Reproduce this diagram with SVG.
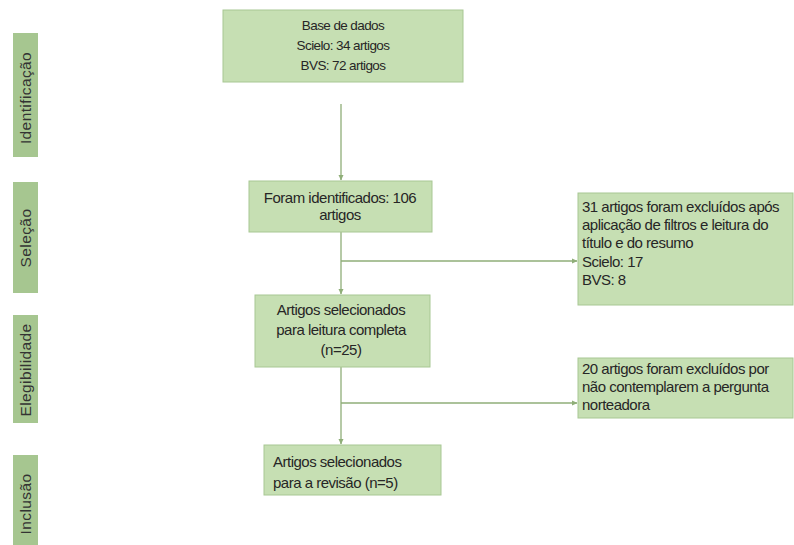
<svg xmlns="http://www.w3.org/2000/svg" width="794" height="545" viewBox="0 0 794 545">
<defs>
<style>
.box{fill:#c6dfb3;stroke:#a8c793;stroke-width:1}
.lab{fill:#a6c690}
.t{font-family:"Liberation Sans",Arial,sans-serif;font-size:15px;fill:#262626;letter-spacing:-0.5px}
.tc{text-anchor:middle}
.lt{font-family:"Liberation Sans",Arial,sans-serif;font-size:15.5px;fill:#333333;text-anchor:middle;letter-spacing:0.4px}
.c{fill:none;stroke:#8fae78;stroke-width:1.3}
</style>
<marker id="ah" markerWidth="6" markerHeight="6" refX="5" refY="3" orient="auto" markerUnits="userSpaceOnUse">
<path d="M0,0.5 L5.5,3 L0,5.5 Z" fill="#8fae78"/>
</marker>
</defs>
<rect width="794" height="545" fill="#ffffff"/>
<g id="label-identificacao">
<rect class="lab" x="13" y="33" width="25" height="124"/>
<text class="lt" transform="translate(31,98) rotate(-90)">Identificação</text>
</g>
<g id="label-selecao">
<rect class="lab" x="13" y="182" width="25" height="111"/>
<text class="lt" transform="translate(31,238) rotate(-90)">Seleção</text>
</g>
<g id="label-elegibilidade">
<rect class="lab" x="13" y="315" width="25" height="108"/>
<text class="lt" transform="translate(31,370) rotate(-90)">Elegibilidade</text>
</g>
<g id="label-inclusao">
<rect class="lab" x="13" y="455" width="25" height="90"/>
<text class="lt" transform="translate(31,504) rotate(-90)">Inclusão</text>
</g>
<g id="connectors">
<line class="c" x1="341" y1="104" x2="341" y2="180" marker-end="url(#ah)"/>
<line class="c" x1="341" y1="232" x2="341" y2="294" marker-end="url(#ah)"/>
<line class="c" x1="341" y1="261" x2="577" y2="261" marker-end="url(#ah)"/>
<line class="c" x1="341" y1="367" x2="341" y2="444" marker-end="url(#ah)"/>
<line class="c" x1="341" y1="403" x2="577" y2="403" marker-end="url(#ah)"/>
</g>
<g id="node-base">
<rect class="box" x="223" y="10" width="240" height="72"/>
<text class="t tc" x="343" y="30" style="font-size:13.5px;letter-spacing:-0.6px">Base de dados</text>
<text class="t tc" x="343" y="50" style="font-size:13.5px;letter-spacing:-0.6px">Scielo: 34 artigos</text>
<text class="t tc" x="343" y="70" style="font-size:13.5px;letter-spacing:-0.6px">BVS: 72 artigos</text>
</g>
<g id="node-identificados">
<rect class="box" x="249" y="181" width="183" height="51"/>
<text class="t tc" x="340" y="203">Foram identificados: 106</text>
<text class="t tc" x="340" y="220">artigos</text>
</g>
<g id="node-excluidos1">
<rect class="box" x="578" y="193" width="215" height="112"/>
<text class="t" x="582" y="212">31 artigos foram excluídos após</text>
<text class="t" x="582" y="230">aplicação de filtros e leitura do</text>
<text class="t" x="582" y="248">título e do resumo</text>
<text class="t" x="582" y="267">Scielo: 17</text>
<text class="t" x="582" y="285">BVS: 8</text>
</g>
<g id="node-leitura">
<rect class="box" x="255" y="295" width="175" height="72"/>
<text class="t tc" x="341" y="315">Artigos selecionados</text>
<text class="t tc" x="341" y="335">para leitura completa</text>
<text class="t tc" x="341" y="355">(n=25)</text>
</g>
<g id="node-excluidos2">
<rect class="box" x="578" y="358" width="215" height="60"/>
<text class="t" x="582" y="374">20 artigos foram excluídos por</text>
<text class="t" x="582" y="392">não contemplarem a pergunta</text>
<text class="t" x="582" y="410">norteadora</text>
</g>
<g id="node-revisao">
<rect class="box" x="264" y="445" width="177" height="50"/>
<text class="t" x="273" y="467">Artigos selecionados</text>
<text class="t" x="273" y="488">para a revisão (n=5)</text>
</g>
</svg>
